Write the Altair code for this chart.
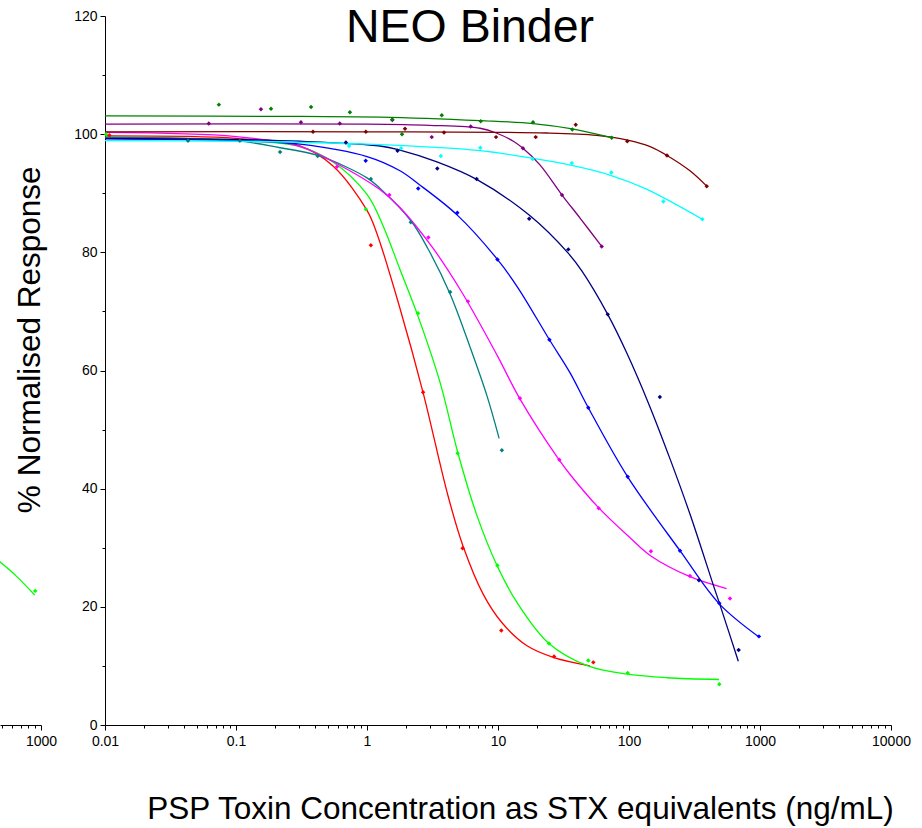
import altair as alt
import pandas as pd

# ---------------- data ----------------
SERIES = ["red", "lime", "teal", "magenta", "blue", "navy", "cyan", "purple", "maroon", "darkgreen"]
COLORS = ["#ff0000", "#00ff00", "#008080", "#ff00ff", "#0000ff", "#000080", "#00ffff", "#800080", "#800000", "#008000"]

red_curve_x = [0.01, 0.1, 0.308, 0.55, 1.0, 1.19, 1.786, 2.677, 4.152, 5.405, 7.685, 10.73, 16.65, 26.76, 50.39]
red_curve_y = [99.7, 99.3, 98.0, 94.6, 87.1, 83.2, 70.5, 56.3, 38.8, 30.3, 22.2, 17.3, 13.4, 11.4, 10.0]
red_pts_x = [0.0108, 1.07, 2.68, 5.37, 10.6, 26.8, 53.4]
red_pts_y = [99.8, 81.2, 56.3, 29.9, 16.0, 11.6, 10.6]

lime_curve_x = [0.01, 0.1, 0.308, 0.55, 1.0, 1.32, 1.786, 2.45, 3.61, 4.95, 6.92, 9.83, 14.0, 24.5, 48.6, 98.2, 195, 487]
lime_curve_y = [99.4, 99.0, 97.9, 95.3, 89.8, 84.6, 77.1, 69.2, 58.0, 46.0, 35.4, 27.0, 20.7, 13.8, 10.0, 8.6, 8.0, 7.7]
lime_pts_x = [0.0102, 0.98, 2.45, 4.92, 9.9, 24.5, 48.9, 97.7, 489]
lime_pts_y = [100.0, 87.3, 69.7, 46.0, 27.0, 13.8, 10.9, 8.8, 6.9]

teal_curve_x = [0.01, 0.1, 0.217, 0.423, 1.0, 1.26, 2.17, 2.92, 4.30, 6.11, 8.24, 10.2]
teal_curve_y = [99.5, 98.9, 97.7, 96.4, 92.6, 90.8, 85.3, 80.6, 73.0, 64.0, 55.7, 48.5]
teal_pts_x = [0.043, 0.107, 0.217, 0.42, 1.07, 2.16, 4.31, 10.7]
teal_pts_y = [98.9, 98.9, 97.0, 96.3, 92.4, 85.1, 73.3, 46.5]

magenta_curve_x = [0.01, 0.1, 0.308, 0.59, 1.26, 1.786, 3.19, 5.31, 9.83, 14.7, 29.2, 35.5, 59.0, 101.8, 147, 292, 556]
magenta_curve_y = [100.3, 99.6, 97.9, 95.0, 90.6, 87.6, 80.7, 73.2, 62.6, 55.2, 44.9, 42.4, 36.7, 31.7, 28.6, 25.1, 23.1]
magenta_pts_x = [0.59, 1.48, 2.94, 5.9, 14.7, 29.4, 58.7, 147, 292, 590]
magenta_pts_y = [94.5, 89.7, 82.5, 71.7, 55.3, 44.9, 36.7, 29.4, 25.2, 21.4]

blue_curve_x = [0.01, 0.1, 0.308, 1.0, 1.786, 2.46, 4.89, 9.9, 14.2, 24.7, 35.5, 48.9, 97.7, 245, 489, 982]
blue_curve_y = [99.2, 98.9, 98.3, 96.2, 93.8, 91.6, 86.3, 78.8, 74.0, 65.2, 59.6, 53.7, 42.0, 29.5, 20.5, 14.9]
blue_pts_x = [0.977, 2.46, 4.89, 9.9, 24.7, 48.9, 97.7, 245, 489, 982]
blue_pts_y = [95.5, 90.8, 86.7, 78.8, 65.2, 53.7, 42.0, 29.5, 20.6, 15.0]

navy_curve_x = [0.01, 0.1, 0.308, 1.257, 1.73, 3.42, 6.92, 17.3, 34.2, 43.5, 68.8, 96.0, 140, 206, 292, 446, 492, 683]
navy_curve_y = [99.3, 99.1, 98.8, 98.0, 97.4, 95.3, 92.3, 86.3, 79.9, 76.9, 69.5, 63.0, 54.6, 45.0, 35.7, 23.3, 20.5, 10.8]
navy_pts_x = [0.69, 1.71, 3.44, 6.87, 17.3, 34.4, 68.8, 172, 342, 687]
navy_pts_y = [98.6, 97.2, 94.2, 92.4, 85.7, 80.5, 69.5, 55.5, 24.5, 12.7]

cyan_curve_x = [0.01, 0.1, 1.0, 7.29, 18.4, 36.6, 73.3, 136, 363]
cyan_curve_y = [98.9, 98.8, 98.3, 97.2, 95.9, 94.7, 93.0, 90.7, 85.6]
cyan_pts_x = [0.73, 1.82, 3.66, 7.33, 18.4, 36.6, 73.3, 183, 363]
cyan_pts_y = [98.0, 97.6, 96.3, 97.7, 95.8, 95.1, 93.5, 88.6, 85.6]

purple_curve_x = [0.01, 1.0, 3.0, 7.29, 9.7, 13.1, 15.5, 20.9, 30.8, 42.3, 61.9]
purple_curve_y = [101.7, 101.7, 101.5, 101.0, 100.2, 98.8, 97.6, 94.8, 89.7, 85.8, 81.0]
purple_pts_x = [0.062, 0.155, 0.313, 0.62, 1.56, 3.12, 6.19, 15.5, 30.8, 61.9]
purple_pts_y = [101.8, 104.2, 102.0, 101.8, 102.4, 99.5, 101.3, 97.6, 89.7, 81.0]

maroon_curve_x = [0.01, 1.0, 23.5, 56.7, 97.5, 145, 195, 292, 392]
maroon_curve_y = [100.4, 100.4, 100.2, 99.8, 99.0, 97.9, 96.4, 93.8, 91.2]
maroon_pts_x = [0.387, 0.98, 1.95, 3.87, 9.66, 19.4, 39.2, 97.0, 195, 392]
maroon_pts_y = [100.4, 100.4, 100.9, 100.3, 99.5, 99.5, 101.6, 98.8, 96.4, 91.2]

dkgreen_curve_x = [0.01, 0.308, 1.257, 7.29, 18.5, 36.9, 73.8]
dkgreen_curve_y = [103.1, 103.0, 102.9, 102.3, 101.8, 100.9, 99.4]
dkgreen_pts_x = [0.074, 0.185, 0.374, 0.74, 1.56, 1.85, 3.72, 7.38, 18.5, 36.9, 73.8]
dkgreen_pts_y = [105.0, 104.3, 104.6, 103.7, 102.5, 100.0, 103.2, 102.2, 102.0, 100.8, 99.4]

# partial neighbouring panel visible at the left edge
prev_curve_x = [480, 648, 895]
prev_curve_y = [27.7, 25.2, 22.0]
prev_pts_x = [903]
prev_pts_y = [22.7]

X_MAJOR = [0.01, 0.1, 1, 10, 100, 1000, 10000]
X_MINOR = [m * d for d in [0.01, 0.1, 1, 10, 100, 1000] for m in range(2, 10)]
Y_MAJOR = [0, 20, 40, 60, 80, 100, 120]
Y_MINOR = [10, 30, 50, 70, 90, 110]
PREV_MAJOR = [1000]
PREV_MINOR = [500, 600, 700, 800, 900]

TITLE = "NEO Binder"
X_TITLE = "PSP Toxin Concentration as STX equivalents (ng/mL)"
Y_TITLE = "% Normalised Response"

FONT = "Liberation Sans"

# ---------------- tables ----------------
curves = [red_curve_x, lime_curve_x, teal_curve_x, magenta_curve_x, blue_curve_x,
          navy_curve_x, cyan_curve_x, purple_curve_x, maroon_curve_x, dkgreen_curve_x]
curves_y = [red_curve_y, lime_curve_y, teal_curve_y, magenta_curve_y, blue_curve_y,
            navy_curve_y, cyan_curve_y, purple_curve_y, maroon_curve_y, dkgreen_curve_y]
pts = [red_pts_x, lime_pts_x, teal_pts_x, magenta_pts_x, blue_pts_x,
       navy_pts_x, cyan_pts_x, purple_pts_x, maroon_pts_x, dkgreen_pts_x]
pts_y = [red_pts_y, lime_pts_y, teal_pts_y, magenta_pts_y, blue_pts_y,
         navy_pts_y, cyan_pts_y, purple_pts_y, maroon_pts_y, dkgreen_pts_y]


def long_table(xs_list, ys_list):
    rows = []
    for name, xs, ys in zip(SERIES, xs_list, ys_list):
        for x, y in zip(xs, ys):
            rows.append({"series": name, "x": x, "y": y})
    return pd.DataFrame(rows)


curve_df = long_table(curves, curves_y)
pts_df = long_table(pts, pts_y)
prev_curve_df = pd.DataFrame({"x": prev_curve_x, "y": prev_curve_y})
prev_pts_df = pd.DataFrame({"x": prev_pts_x, "y": prev_pts_y})

color = alt.Color("series:N", scale=alt.Scale(domain=SERIES, range=COLORS), legend=None)
xscale = alt.Scale(type="log", domain=[0.01, 10000], nice=False)
yscale = alt.Scale(domain=[0, 120], nice=False, zero=False)

W, H = 786, 709

line_layer = alt.Chart(curve_df).mark_line(interpolate="catmull-rom", strokeWidth=1.3).encode(
    x=alt.X("x:Q", scale=xscale, axis=alt.Axis(
        values=X_MAJOR, format="~g", tickSize=5, labelPadding=4, labelFlush=False,
        orient="bottom", grid=False, title=X_TITLE, titleX=415, titleY=93.6,
        titleAlign="center", titleBaseline="alphabetic", titleFontSize=31.5,
        titleFontWeight="normal")),
    y=alt.Y("y:Q", scale=yscale, axis=alt.Axis(
        values=Y_MAJOR, tickSize=5, labelPadding=3, orient="left", grid=False,
        title=Y_TITLE, titleAngle=270, titleX=-65.7, titleY=323.3, titleAlign="center",
        titleBaseline="alphabetic", titleFontSize=31.5, titleFontWeight="normal")),
    color=color,
    detail="series:N",
)

pt_layer = alt.Chart(pts_df).mark_point(shape="diamond", filled=True, size=20, opacity=1).encode(
    x=alt.X("x:Q", scale=xscale, title=None, axis=alt.Axis(
        values=X_MINOR, tickSize=3, labels=False, domain=False, orient="bottom", grid=False)),
    y=alt.Y("y:Q", scale=yscale, title=None, axis=alt.Axis(
        values=Y_MINOR, tickSize=3, labels=False, domain=False, orient="left", grid=False)),
    color=color,
)

title_layer = alt.Chart(pd.DataFrame({"t": [TITLE]})).mark_text(
    font=FONT, fontSize=46.5, align="center", baseline="alphabetic", color="black"
).encode(x=alt.value(365), y=alt.value(26), text="t:N")

main = alt.layer(line_layer, pt_layer, title_layer).resolve_axis(
    x="independent", y="independent"
).properties(width=W, height=H)

pscale = alt.Scale(type="log", domain=[486, 1000], nice=False)
prev_line = alt.Chart(prev_curve_df).mark_line(
    interpolate="catmull-rom", strokeWidth=1.3, color="#00ff00", clip=True
).encode(
    x=alt.X("x:Q", scale=pscale, title=None, axis=alt.Axis(
        values=PREV_MAJOR, format="~g", tickSize=5, labelPadding=4, labelFlush=False,
        orient="bottom", grid=False)),
    y=alt.Y("y:Q", scale=yscale, axis=None),
)
prev_pt = alt.Chart(prev_pts_df).mark_point(
    shape="diamond", filled=True, size=20, opacity=1, color="#00ff00"
).encode(
    x=alt.X("x:Q", scale=pscale, title=None, axis=alt.Axis(
        values=PREV_MINOR, tickSize=3, labels=False, domain=False, orient="bottom", grid=False)),
    y=alt.Y("y:Q", scale=yscale, axis=None),
)
prev = alt.layer(prev_line, prev_pt).resolve_axis(x="independent").properties(width=41, height=H)

chart = alt.hconcat(prev, main, spacing=64, bounds="flush").properties(
    padding={"left": 0, "top": 5, "right": 5, "bottom": 5},
    background="white",
).configure_view(stroke=None).configure_axis(
    labelFont=FONT, labelFontSize=14, labelColor="black",
    titleFont=FONT, titleColor="black",
    domainColor="black", tickColor="black", domainWidth=1, tickWidth=1,
)

chart.save("out.html", embed_options={"renderer": "svg", "actions": False})
